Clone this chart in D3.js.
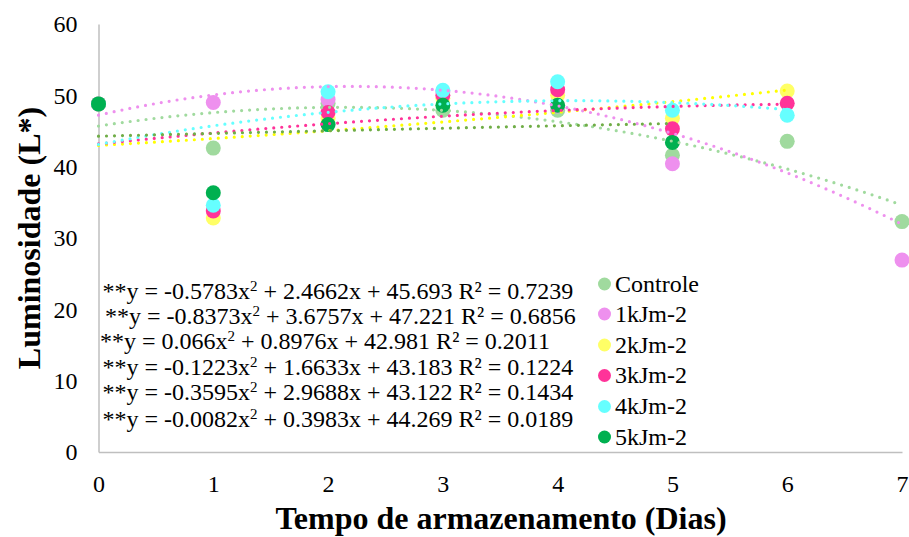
<!DOCTYPE html>
<html>
<head>
<meta charset="utf-8">
<script src="https://cdn.jsdelivr.net/npm/d3@7"></script>
<style>
  html, body { margin: 0; padding: 0; background: #fff; }
  svg { display: block; }
</style>
</head>
<body>
<svg id="chart" width="909" height="537"></svg>
<script>
// Storage days on the x axis
const days = [0, 1, 2, 3, 4, 5, 6, 7];
const xTicks = [0, 1, 2, 3, 4, 5, 6, 7];
const yTicks = [0, 10, 20, 30, 40, 50, 60];

// Treatments
const seriesNames = ["Controle", "1kJm-2", "2kJm-2", "3kJm-2", "4kJm-2", "5kJm-2"];
const markerColors = ["#a0da9e", "#ee90ee", "#ffff66", "#ff3399", "#66ffff", "#00b050"];
const trendColors  = ["#a0da9e", "#ee90ee", "#ffff00", "#ff3399", "#66ffff", "#70ad47"];

// Luminosity (L*) per day, null where no measurement
const controle = [48.8, 42.6, 48.9, 47.9, 47.9, 41.6, 43.55, 32.3];
const uv1 = [48.8, 49.0, 49.4, 50.5, 48.5, 40.4, null, 26.9];
const uv2 = [48.8, 32.8, 46.8, 49.6, 50.0, 46.8, 50.6, null];
const uv3 = [48.8, 33.8, 47.6, 50.0, 50.8, 45.3, 48.9, null];
const uv4 = [48.8, 34.6, 50.5, 50.7, 51.9, 47.9, 47.2, null];
const uv5 = [48.8, 36.35, 45.9, 48.6, 48.6, 43.4, null, null];
const values = [controle, uv1, uv2, uv3, uv4, uv5];

// Quadratic trend coefficients (a, b, c) and R², with the last day each fit covers
const coefA = [-0.5783, -0.8373, 0.066, -0.1223, -0.3595, -0.0082];
const coefB = [2.4662, 3.6757, 0.8976, 1.6633, 2.9688, 0.3983];
const coefC = [45.693, 47.221, 42.981, 43.183, 43.122, 44.269];
const rSquared = [0.7239, 0.6856, 0.2011, 0.1224, 0.1434, 0.0189];
const trendEnd = [7, 7, 6, 6, 6, 5];

const FONT = '"Liberation Serif", "Times New Roman", serif';
const svg = d3.select("#chart");

const x = d3.scaleLinear().domain([0, 7]).range([98.5, 902]);
const y = d3.scaleLinear().domain([0, 60]).range([452, 24]);

// Axes: light grey lines, no tick marks
const xAxis = svg.append("g").attr("transform", `translate(0,${y(0)})`)
  .call(d3.axisBottom(x).tickValues(xTicks).tickSize(0).tickPadding(0).tickFormat(d3.format("d")));
xAxis.select(".domain").attr("stroke", "#bfbfbf").attr("stroke-width", 1.5);
xAxis.selectAll("text").style("font-family", FONT).style("font-size", "24px")
  .attr("dy", null).attr("y", 40);

const yAxis = svg.append("g").attr("transform", `translate(${x(0)},0)`)
  .call(d3.axisLeft(y).tickValues(yTicks).tickSize(0).tickPadding(0).tickFormat(d3.format("d")));
yAxis.select(".domain").attr("stroke", "#bfbfbf").attr("stroke-width", 1.5);
yAxis.selectAll("text").style("font-family", FONT).style("font-size", "24px")
  .attr("x", -21).attr("dy", "0.33em");

// Markers: one group per treatment, later treatments drawn on top
seriesNames.forEach((name, i) => {
  const pts = days.map((d, k) => ({ d, v: values[i][k] })).filter(p => p.v !== null);
  svg.append("g").selectAll("circle").data(pts).join("circle")
    .attr("cx", p => x(p.d)).attr("cy", p => y(p.v)).attr("r", 7.5)
    .attr("fill", markerColors[i]);
});

// Dotted polynomial trend lines
seriesNames.forEach((name, i) => {
  const xs = d3.range(0, trendEnd[i] + 0.0001, 0.05);
  const line = d3.line()
    .x(t => x(t))
    .y(t => y(coefA[i] * t * t + coefB[i] * t + coefC[i]));
  svg.append("path").datum(xs)
    .attr("d", line)
    .attr("fill", "none")
    .attr("stroke", trendColors[i])
    .attr("stroke-width", 3.2)
    .attr("stroke-linecap", "round")
    .attr("stroke-dasharray", "0 8");
});

// Trend equations
const eqX = [102.5, 105, 100, 102.5, 102.5, 102.5];
const eqY = [299, 324, 349, 374.5, 400, 426.5];
const fmtSigned = v => (v < 0 ? "-" : "") + Math.abs(v);
seriesNames.forEach((name, i) => {
  const t = svg.append("text").attr("x", eqX[i]).attr("y", eqY[i])
    .style("font-family", FONT).style("font-size", "24px");
  t.append("tspan").text(`**y = ${fmtSigned(coefA[i])}x`);
  t.append("tspan").style("font-size", "15px").attr("dy", -8).text("2");
  t.append("tspan").attr("dy", 8).text(` + ${coefB[i]}x + ${coefC[i]} R² = ${rSquared[i].toFixed(4)}`);
});

// Legend
const legendY = [284, 314, 345, 375.5, 406.5, 437];
const legend = svg.append("g");
seriesNames.forEach((name, i) => {
  legend.append("circle").attr("cx", 604.5).attr("cy", legendY[i]).attr("r", 6.5)
    .attr("fill", markerColors[i]);
  legend.append("text").attr("x", 615).attr("y", legendY[i]).attr("dy", "0.33em")
    .style("font-family", FONT).style("font-size", "24px").text(name);
});

// Axis titles
svg.append("text").attr("x", 501).attr("y", 529).attr("text-anchor", "middle")
  .style("font-family", FONT).style("font-size", "32px").style("font-weight", "bold")
  .text("Tempo de armazenamento (Dias)");
svg.append("text").attr("transform", "translate(40,238) rotate(-90)").attr("text-anchor", "middle")
  .style("font-family", FONT).style("font-size", "32px").style("font-weight", "bold")
  .text("Luminosidade (L*)");
</script>
</body>
</html>
